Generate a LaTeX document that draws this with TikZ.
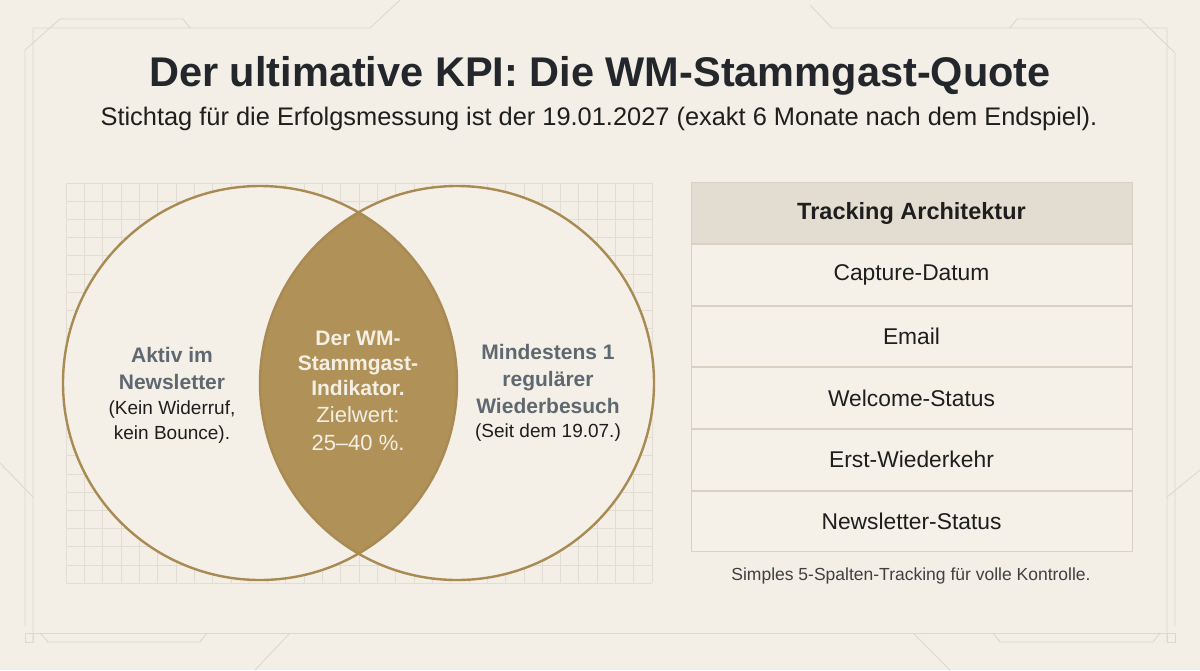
\documentclass[tikz,border=0pt]{standalone}
\usepackage{fontspec}
\setmainfont{Liberation Sans}
\definecolor{bg}{HTML}{F3EFE6}
\definecolor{circfill}{HTML}{F4F0E7}
\definecolor{deco}{HTML}{DDD8CD}
\definecolor{gridc}{HTML}{E2DDD3}
\definecolor{gold}{HTML}{B09158}
\definecolor{goldline}{HTML}{A88A52}
\definecolor{titlec}{HTML}{23272C}
\definecolor{grayt}{HTML}{5F6870}
\definecolor{cream}{HTML}{F4EFE4}
\definecolor{darkt}{HTML}{1E1E1E}
\definecolor{headfill}{HTML}{E3DDD1}
\definecolor{rowfill}{HTML}{F5F1E9}
\definecolor{tline}{HTML}{D8D1C4}
\begin{document}
\begin{tikzpicture}[x=1pt,y=-1pt,
  decoline/.style={draw=deco,line width=0.9pt},
  gridline/.style={draw=gridc,line width=0.6pt},
  ring/.style={draw=goldline,line width=2.4pt},
  rowbox/.style={draw=tline,line width=1pt,fill=rowfill,minimum width=441pt,minimum height=60.7pt,inner sep=0pt,font=\fontsize{22.8}{26}\selectfont,text=darkt},
  headbox/.style={rowbox,fill=headfill,font=\fontsize{23.5}{26}\selectfont\bfseries},
  boldlab/.style={align=center,inner sep=0pt,font=\fontsize{21}{27}\selectfont\bfseries,text=grayt},
  plainlab/.style={align=center,inner sep=0pt,font=\fontsize{19}{25}\selectfont,text=darkt},
  midbold/.style={align=center,inner sep=0pt,font=\fontsize{21}{25}\selectfont\bfseries,text=cream},
  midplain/.style={align=center,inner sep=0pt,font=\fontsize{22}{28}\selectfont,text=cream}]
\useasboundingbox (0,0) rectangle (1200,670);
\fill[bg] (0,0) rectangle (1200,670);
% decorative frame
\draw[decoline] (33,642) -- (33,28) -- (370,28) -- (400,0);
\draw[decoline] (25,625) -- (25,50) -- (60,19) -- (183,19) -- (190,28);
\draw[decoline] (0,463) -- (33,497);
\draw[decoline] (810,5) -- (832,28) -- (1167,28) -- (1167,642);
\draw[decoline] (1010,28) -- (1017,19) -- (1140,19) -- (1175,53) -- (1175,625);
\draw[decoline] (1167,497) -- (1200,470);
\draw[decoline] (25,633) -- (1175,633);
\draw[decoline] (25,633) rectangle (33,642);
\draw[decoline] (1167,633) rectangle (1175,642);
\draw[decoline] (40,633) -- (48,642) -- (200,642) -- (207,633);
\draw[decoline] (993,633) -- (1000,642) -- (1153,642) -- (1160,633);
\draw[decoline] (290,633) -- (255,670);
\draw[decoline] (913,633) -- (950,670);
% grid
\foreach \i in {0,...,32} \draw[gridline] (66+\i*18.3125,183) -- (66+\i*18.3125,583);
\foreach \j in {0,...,22} \draw[gridline] (66,183+\j*18.1818) -- (652,183+\j*18.1818);
% title
\node[font=\fontsize{41.5}{48}\selectfont\bfseries,text=titlec] (title) at (600,76) {Der ultimative KPI: Die WM-Stammgast-Quote};
\node[font=\fontsize{25.4}{30}\selectfont,text=darkt] (sub) at (599,119) {Stichtag für die Erfolgsmessung ist der 19.01.2027 (exakt 6 Monate nach dem Endspiel).};
% venn
\coordinate (cl) at (260,383);
\coordinate (cr) at (457,383);
\fill[circfill] (cl) circle[radius=197pt];
\fill[circfill] (cr) circle[radius=197pt];
\begin{scope}
\clip (cl) circle[radius=197pt];
\fill[gold] (cr) circle[radius=197pt];
\end{scope}
\draw[ring] (cl) circle[radius=197pt];
\draw[ring] (cr) circle[radius=197pt];
\node[boldlab,anchor=south] (lefthead) at (172,390) {Aktiv im\\Newsletter};
\node[plainlab,anchor=north] (leftsub) at (172,401) {(Kein Widerruf,\\kein Bounce).};
\node[midbold,anchor=south] (midhead) at (358,396) {Der WM-\\Stammgast-\\Indikator.};
\node[midplain,anchor=north] (midsub) at (358,406) {Zielwert:\\25--40 \%.};
\node[boldlab,anchor=south] (righthead) at (548,414) {Mindestens 1\\regulärer\\Wiederbesuch};
\node[plainlab,anchor=north] (rightsub) at (548,424) {(Seit dem 19.07.)};
% table
\node[headbox] (h) at (911.5,213) {Tracking Architektur};
\node[rowbox,anchor=north] (r1) at (h.south) {Capture-Datum};
\node[rowbox,anchor=north] (r2) at (r1.south) {Email};
\node[rowbox,anchor=north] (r3) at (r2.south) {Welcome-Status};
\node[rowbox,anchor=north] (r4) at (r3.south) {Erst-Wiederkehr};
\node[rowbox,anchor=north] (r5) at (r4.south) {Newsletter-Status};
\node[font=\fontsize{17.5}{20}\selectfont,text=darkt!85] (cap) at (911,576) {Simples 5-Spalten-Tracking für volle Kontrolle.};
\end{tikzpicture}
\end{document}
